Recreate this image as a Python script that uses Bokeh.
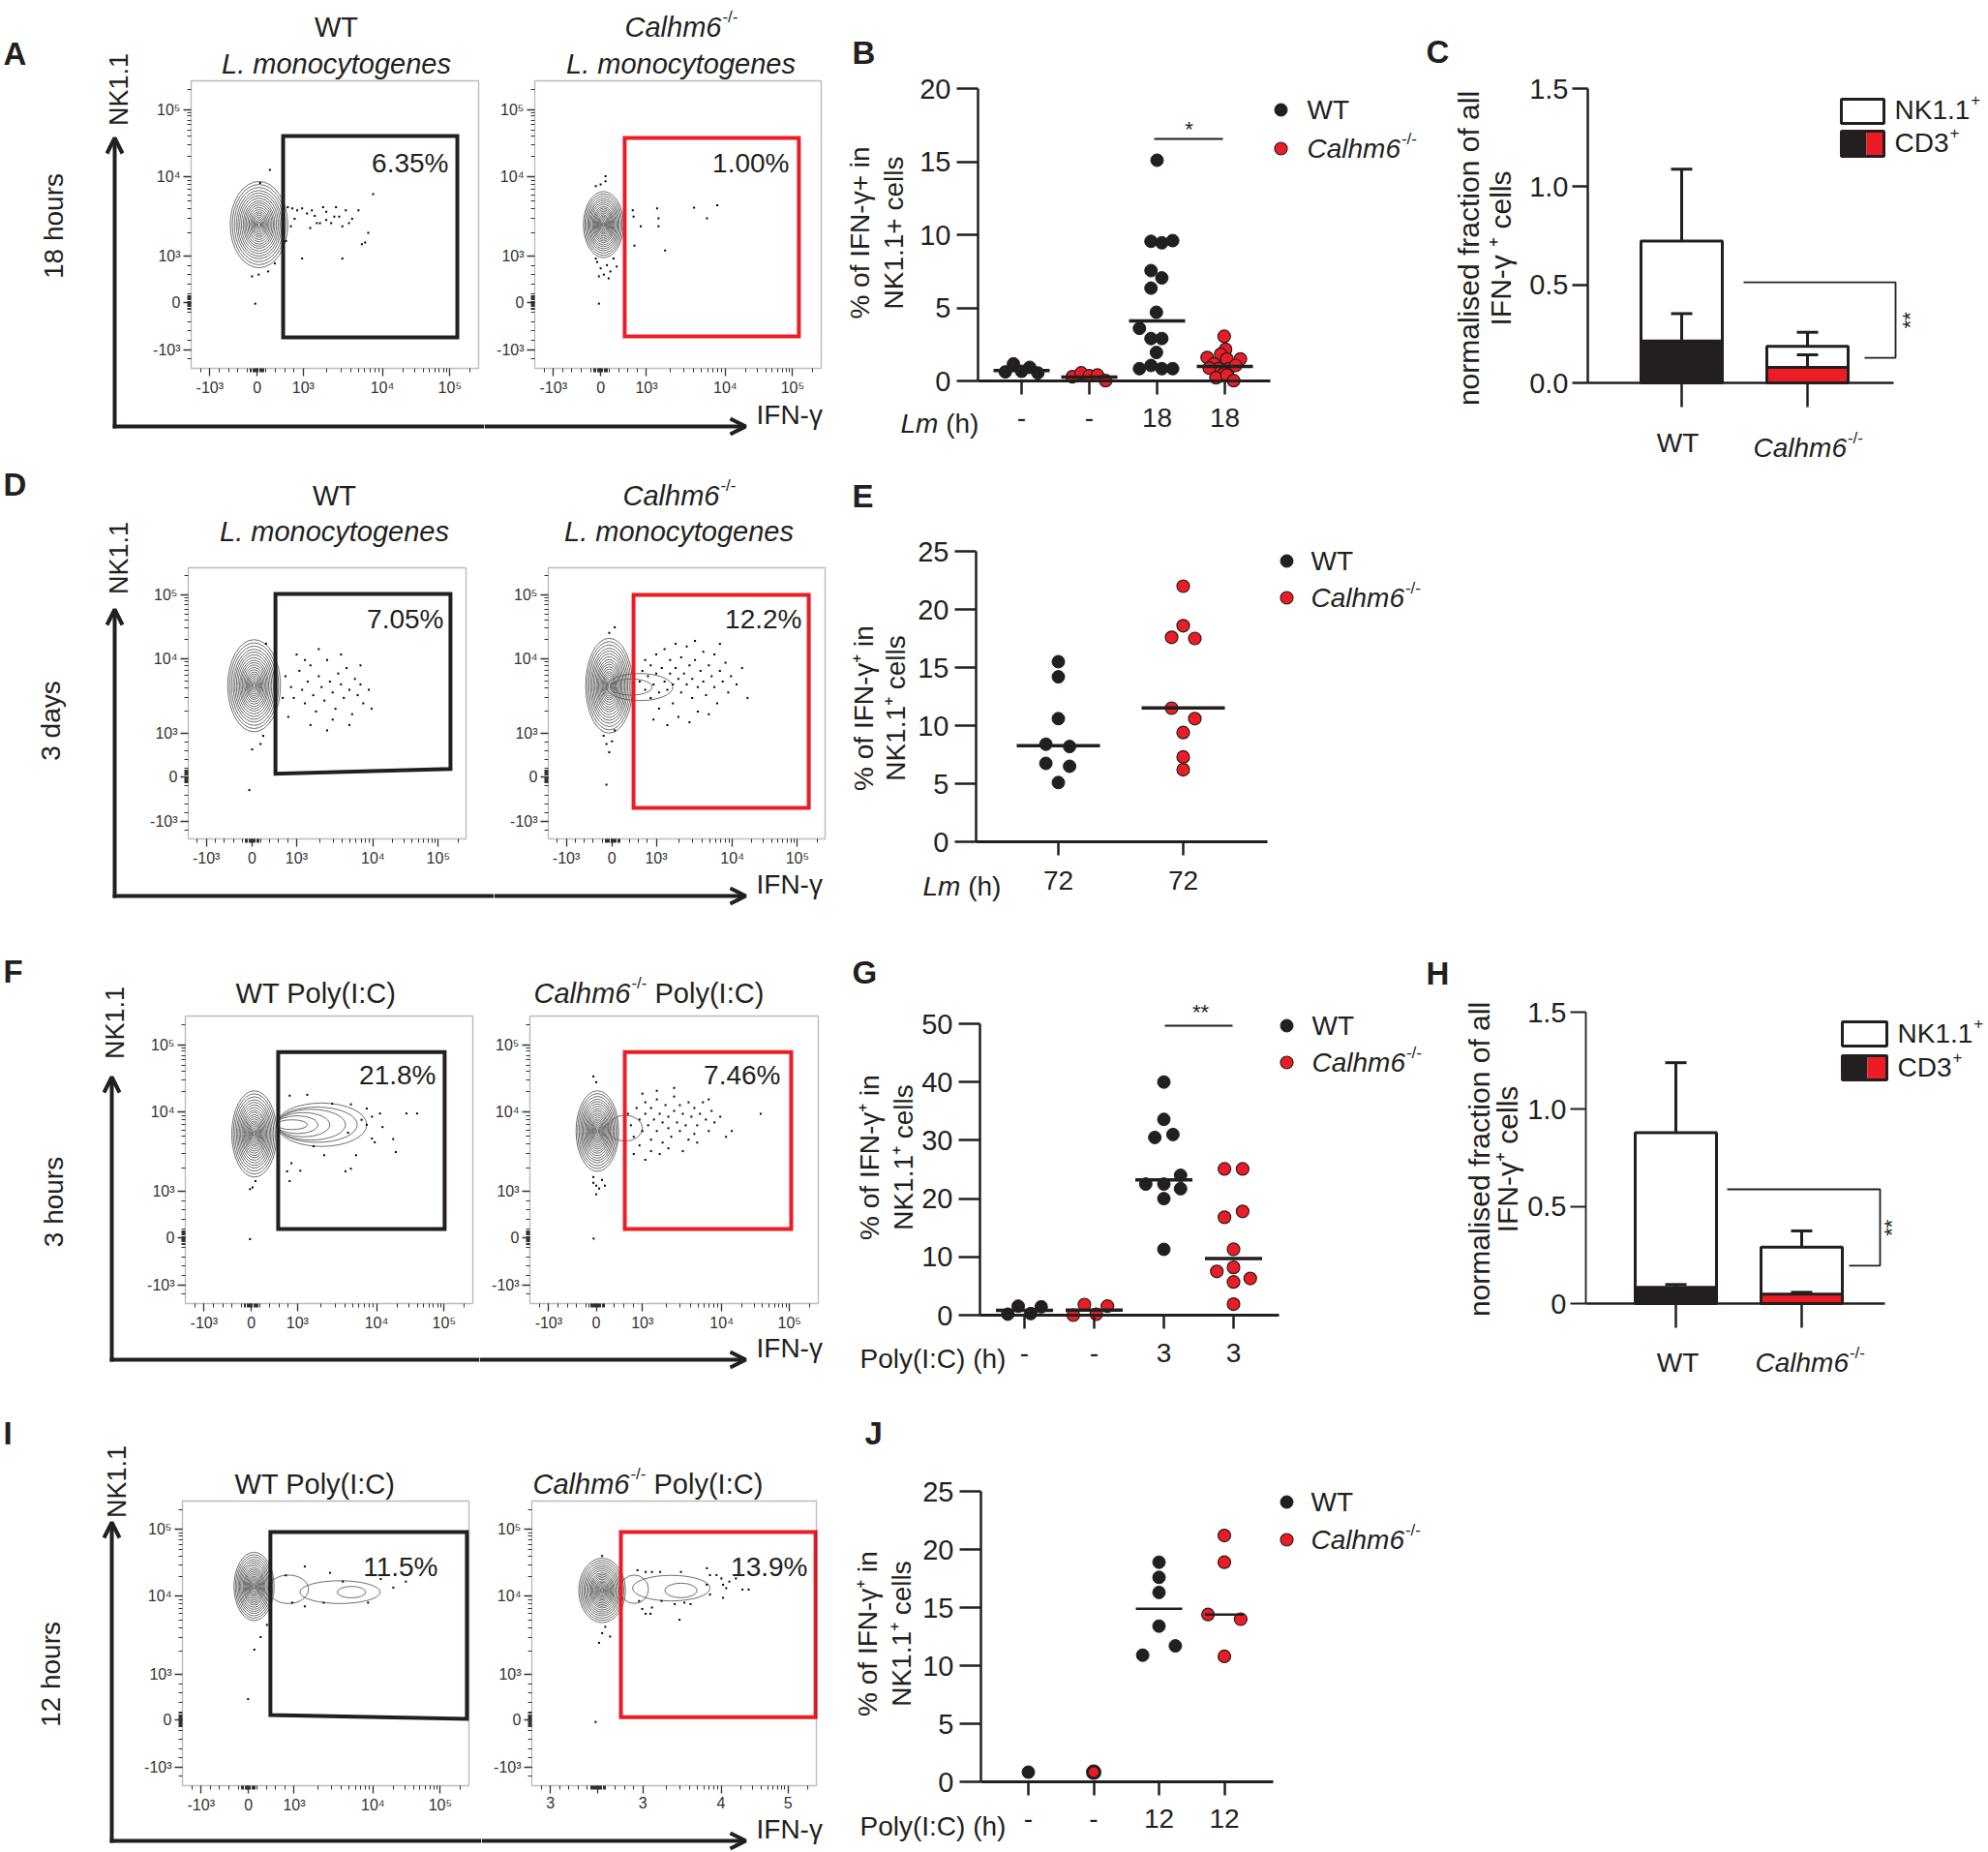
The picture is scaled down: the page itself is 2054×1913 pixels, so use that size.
import math
from bokeh.plotting import figure
from bokeh.layouts import row, column
from bokeh.models import Label, Arrow, OpenHead, FixedTicker, Range1d, BoxAnnotation
from bokeh.embed import file_html
from bokeh.resources import INLINE

FONT = "Liberation Sans"
INK = "#231f20"
RED = "#ed1c24"
CONTOUR = "#5e5e5e"

# ============================ DATA ============================
# flow cytometry biexponential axes (positions as fraction of the plot box)
FLOW_TICK_POS = [0.065, 0.23, 0.39, 0.665, 0.90]
FLOW_TICK_LAB = ["-10³", "0", "10³", "10⁴", "10⁵"]
FLOW_TICK_LAB_I_KO = ["3", "", "3", "4", "5"]
CONTOUR_LEVELS = [1.0, 0.93, 0.86, 0.79, 0.73, 0.67, 0.61, 0.55, 0.50, 0.45, 0.40, 0.35,
                  0.30, 0.26, 0.22, 0.18, 0.14, 0.10, 0.07, 0.04]

# gates: x0, x1, top, bottom-left, bottom-right
A_WT_GATE = [0.32, 0.926, 0.808, 0.108, 0.108]
A_KO_GATE = [0.314, 0.922, 0.801, 0.111, 0.111]
D_WT_GATE = [0.314, 0.944, 0.904, 0.240, 0.258]
D_KO_GATE = [0.308, 0.941, 0.900, 0.114, 0.114]
F_WT_GATE = [0.323, 0.902, 0.875, 0.259, 0.259]
F_KO_GATE = [0.329, 0.906, 0.875, 0.259, 0.259]
I_WT_GATE = [0.307, 0.993, 0.891, 0.248, 0.235]
I_KO_GATE = [0.313, 0.997, 0.891, 0.241, 0.241]

A_WT_PCT, A_KO_PCT = "6.35%", "1.00%"
D_WT_PCT, D_KO_PCT = "7.05%", "12.2%"
F_WT_PCT, F_KO_PCT = "21.8%", "7.46%"
I_WT_PCT, I_KO_PCT = "11.5%", "13.9%"

# main population contour: centre x, centre y, width, height
A_WT_POP = [0.236, 0.50, 0.20, 0.30]
A_KO_POP = [0.24, 0.50, 0.14, 0.23]
D_WT_POP = [0.237, 0.565, 0.19, 0.34]
D_KO_POP = [0.22, 0.565, 0.17, 0.35]
F_WT_POP = [0.24, 0.59, 0.157, 0.30]
F_KO_POP = [0.234, 0.60, 0.148, 0.28]
I_WT_POP = [0.25, 0.70, 0.14, 0.24]
I_KO_POP = [0.247, 0.686, 0.164, 0.226]

# secondary (IFN-g+) contours
D_KO_TAIL = [(0.33, 0.56, 0.24, 0.10), (0.30, 0.56, 0.15, 0.06)]
F_WT_TAIL = [(0.474, 0.622, 0.314, 0.151), (0.458, 0.622, 0.280, 0.123), (0.437, 0.622, 0.240, 0.107),
             (0.41, 0.622, 0.185, 0.084), (0.389, 0.622, 0.144, 0.062), (0.371, 0.622, 0.107, 0.034)]
F_KO_TAIL = [(0.33, 0.61, 0.12, 0.09)]
I_WT_TAIL = [(0.37, 0.69, 0.14, 0.10), (0.55, 0.68, 0.28, 0.08), (0.59, 0.68, 0.10, 0.04)]
I_KO_TAIL = [(0.36, 0.69, 0.10, 0.10), (0.49, 0.694, 0.272, 0.09), (0.524, 0.686, 0.113, 0.051)]

# single events outside the contours
A_WT_DOTS = [(0.336, 0.561), (0.352, 0.556), (0.369, 0.550), (0.386, 0.556), (0.403, 0.539), (0.420, 0.550),
             (0.437, 0.505), (0.459, 0.561), (0.470, 0.516), (0.487, 0.505), (0.504, 0.561), (0.515, 0.528),
             (0.526, 0.494), (0.538, 0.550), (0.549, 0.505), (0.582, 0.550), (0.616, 0.471), (0.605, 0.438),
             (0.633, 0.606), (0.414, 0.488), (0.347, 0.494), (0.330, 0.443), (0.448, 0.505), (0.498, 0.528),
             (0.594, 0.432), (0.274, 0.690), (0.240, 0.645), (0.223, 0.225), (0.212, 0.320), (0.235, 0.326),
             (0.268, 0.337), (0.291, 0.365), (0.386, 0.382), (0.526, 0.382), (0.360, 0.520), (0.430, 0.530),
             (0.470, 0.545), (0.560, 0.520)]
A_KO_DOTS = [(0.342, 0.550), (0.345, 0.528), (0.370, 0.494), (0.348, 0.427), (0.427, 0.556), (0.432, 0.522),
             (0.432, 0.494), (0.455, 0.410), (0.556, 0.559), (0.601, 0.522), (0.637, 0.567), (0.218, 0.370),
             (0.230, 0.348), (0.241, 0.326), (0.252, 0.359), (0.264, 0.337), (0.224, 0.320), (0.275, 0.382),
             (0.213, 0.634), (0.230, 0.640), (0.247, 0.651), (0.224, 0.225), (0.286, 0.354), (0.258, 0.313),
             (0.213, 0.382), (0.247, 0.668)]
D_WT_DOTS = [(0.35, 0.60), (0.37, 0.56), (0.38, 0.52), (0.40, 0.62), (0.41, 0.55), (0.42, 0.50), (0.43, 0.58),
             (0.44, 0.64), (0.45, 0.53), (0.46, 0.47), (0.47, 0.60), (0.48, 0.56), (0.49, 0.51), (0.50, 0.66),
             (0.51, 0.58), (0.52, 0.54), (0.53, 0.48), (0.54, 0.61), (0.55, 0.57), (0.56, 0.52), (0.57, 0.63),
             (0.58, 0.55), (0.59, 0.46), (0.60, 0.59), (0.61, 0.53), (0.62, 0.57), (0.63, 0.50), (0.65, 0.55),
             (0.36, 0.45), (0.39, 0.68), (0.44, 0.42), (0.47, 0.70), (0.52, 0.44), (0.55, 0.68), (0.58, 0.42),
             (0.62, 0.64), (0.66, 0.48), (0.34, 0.52), (0.42, 0.66), (0.50, 0.40), (0.27, 0.38), (0.26, 0.35),
             (0.23, 0.33), (0.22, 0.18), (0.28, 0.72)]
D_KO_DOTS = [(0.33, 0.58), (0.34, 0.62), (0.35, 0.55), (0.35, 0.66), (0.36, 0.60), (0.37, 0.52), (0.37, 0.64),
             (0.38, 0.57), (0.39, 0.68), (0.39, 0.61), (0.40, 0.54), (0.40, 0.48), (0.41, 0.63), (0.42, 0.58),
             (0.42, 0.70), (0.43, 0.55), (0.44, 0.61), (0.44, 0.66), (0.45, 0.50), (0.45, 0.57), (0.46, 0.63),
             (0.47, 0.59), (0.47, 0.45), (0.48, 0.67), (0.48, 0.54), (0.49, 0.61), (0.50, 0.57), (0.50, 0.71),
             (0.51, 0.64), (0.52, 0.52), (0.52, 0.59), (0.53, 0.66), (0.54, 0.56), (0.54, 0.47), (0.55, 0.62),
             (0.56, 0.69), (0.56, 0.58), (0.57, 0.53), (0.58, 0.64), (0.59, 0.60), (0.60, 0.56), (0.60, 0.68),
             (0.61, 0.50), (0.62, 0.62), (0.63, 0.58), (0.64, 0.65), (0.65, 0.54), (0.66, 0.60), (0.68, 0.57),
             (0.70, 0.63), (0.72, 0.52), (0.38, 0.44), (0.43, 0.42), (0.51, 0.43), (0.58, 0.46), (0.46, 0.72),
             (0.53, 0.73), (0.62, 0.72), (0.20, 0.38), (0.21, 0.35), (0.23, 0.36), (0.22, 0.32), (0.24, 0.40),
             (0.21, 0.20), (0.22, 0.76), (0.24, 0.78)]
F_WT_DOTS = [(0.363, 0.723), (0.424, 0.726), (0.511, 0.695), (0.576, 0.693), (0.631, 0.678), (0.649, 0.650),
             (0.677, 0.661), (0.631, 0.622), (0.686, 0.614), (0.769, 0.661), (0.806, 0.661), (0.659, 0.561),
             (0.732, 0.527), (0.594, 0.516), (0.483, 0.516), (0.446, 0.547), (0.576, 0.469), (0.363, 0.426),
             (0.369, 0.488), (0.400, 0.462), (0.234, 0.404), (0.225, 0.224), (0.557, 0.460), (0.649, 0.574),
             (0.723, 0.572), (0.354, 0.460), (0.244, 0.426), (0.225, 0.398), (0.613, 0.639), (0.566, 0.594)]
F_KO_DOTS = [(0.34, 0.66), (0.35, 0.62), (0.36, 0.58), (0.37, 0.68), (0.38, 0.64), (0.38, 0.55), (0.39, 0.60),
             (0.40, 0.70), (0.40, 0.66), (0.41, 0.62), (0.42, 0.57), (0.42, 0.68), (0.43, 0.64), (0.44, 0.60),
             (0.44, 0.71), (0.45, 0.66), (0.46, 0.63), (0.46, 0.56), (0.47, 0.69), (0.48, 0.65), (0.48, 0.61),
             (0.49, 0.58), (0.50, 0.67), (0.50, 0.72), (0.51, 0.63), (0.52, 0.60), (0.52, 0.69), (0.53, 0.66),
             (0.54, 0.62), (0.55, 0.70), (0.55, 0.57), (0.56, 0.65), (0.57, 0.68), (0.58, 0.62), (0.59, 0.66),
             (0.60, 0.70), (0.61, 0.64), (0.62, 0.60), (0.63, 0.67), (0.64, 0.63), (0.66, 0.65), (0.68, 0.58),
             (0.70, 0.60), (0.36, 0.52), (0.40, 0.50), (0.45, 0.52), (0.48, 0.54), (0.53, 0.53), (0.58, 0.56),
             (0.44, 0.74), (0.50, 0.75), (0.39, 0.73), (0.62, 0.71), (0.57, 0.59), (0.42, 0.53), (0.80, 0.66),
             (0.22, 0.44), (0.23, 0.41), (0.24, 0.40), (0.25, 0.43), (0.23, 0.38), (0.22, 0.42), (0.26, 0.41),
             (0.221, 0.226), (0.22, 0.79), (0.23, 0.77)]
I_WT_DOTS = [(0.361, 0.739), (0.427, 0.770), (0.515, 0.748), (0.692, 0.726), (0.736, 0.696), (0.648, 0.643),
             (0.383, 0.643), (0.273, 0.522), (0.295, 0.565), (0.251, 0.478), (0.229, 0.304), (0.427, 0.630),
             (0.780, 0.717), (0.560, 0.717), (0.493, 0.643)]
I_KO_DOTS = [(0.371, 0.757), (0.400, 0.751), (0.422, 0.751), (0.451, 0.751), (0.524, 0.751), (0.615, 0.764),
             (0.626, 0.740), (0.649, 0.740), (0.666, 0.728), (0.672, 0.706), (0.683, 0.694), (0.694, 0.717),
             (0.717, 0.728), (0.740, 0.689), (0.762, 0.689), (0.615, 0.706), (0.626, 0.672), (0.672, 0.660),
             (0.558, 0.638), (0.536, 0.643), (0.502, 0.638), (0.456, 0.649), (0.422, 0.626), (0.388, 0.621),
             (0.400, 0.604), (0.417, 0.604), (0.519, 0.583), (0.377, 0.649), (0.258, 0.558), (0.247, 0.536),
             (0.236, 0.502), (0.275, 0.524), (0.224, 0.224), (0.247, 0.807)]

# ---- Panel B: % IFN-g+ in NK1.1+ cells, Lm 18 h ----
B_CATS = ["-", "-", "18", "18"]
B_WT_CTRL = [0.62, 1.17, 0.66, 0.93, 0.55]
B_WT_CTRL_DX = [-0.24, -0.12, 0.0, 0.12, 0.24]
B_KO_CTRL = [0.29, 0.55, 0.35, 0.40, 0.02]
B_KO_CTRL_DX = [-0.25, -0.12, 0.0, 0.12, 0.24]
B_WT_LM = [15.1, 9.55, 9.45, 9.6, 7.55, 7.05, 6.35, 4.7, 3.6, 2.9, 2.9, 1.95, 0.84, 1.06, 0.84, 0.84]
B_WT_LM_DX = [0, -0.09, 0.07, 0.23, -0.09, 0.07, -0.09, -0.01, -0.26, -0.09, 0.07, -0.01, -0.26, -0.09, 0.07, 0.23]
B_KO_LM = [3.05, 2.16, 1.83, 1.6, 1.5, 1.5, 1.17, 0.84, 0.84, 1.06, 0.88, 0.51, 0.22, 0.4, 0.02]
B_KO_LM_DX = [-0.01, 0.01, -0.06, -0.26, 0.03, 0.23, -0.16, -0.09, 0.06, 0.16, -0.23, -0.01, -0.13, 0.03, 0.13]
B_MEDIANS = [0.71, 0.27, 4.1, 1.0]

# ---- Panel E: Lm 72 h ----
E_CATS = ["72", "72"]
E_WT = [15.5, 14.2, 10.6, 8.4, 8.2, 6.75, 6.5, 5.1]
E_WT_DX = [0, 0, 0, -0.10, 0.09, -0.10, 0.09, 0]
E_KO = [22.0, 18.6, 17.6, 17.5, 11.5, 10.6, 9.4, 7.3, 6.2]
E_KO_DX = [0, 0, -0.093, 0.093, -0.093, 0.093, 0, 0, 0]
E_MEDIANS = [8.28, 11.53]

# ---- Panel G: Poly(I:C) 3 h ----
G_CATS = ["-", "-", "3", "3"]
G_WT_CTRL = [0.17, 1.55, 0.28, 1.44]
G_WT_CTRL_DX = [-0.24, -0.09, 0.09, 0.24]
G_KO_CTRL = [0.0, 1.83, 0.17, 1.55]
G_KO_CTRL_DX = [-0.30, -0.14, 0.03, 0.19]
G_WT_PIC = [40.0, 33.6, 30.5, 31.0, 24.0, 22.5, 22.5, 21.7, 20.0, 11.3]
G_WT_PIC_DX = [0, 0, -0.13, 0.13, 0.24, -0.26, 0, 0.24, 0, 0]
G_KO_PIC = [25.1, 25.1, 17.8, 16.8, 11.3, 8.2, 7.5, 6.3, 5.7, 1.9]
G_KO_PIC_DX = [-0.13, 0.13, 0.13, -0.13, 0, 0, -0.24, 0.24, 0, 0]
G_MEDIANS = [0.83, 0.89, 23.2, 9.7]

# ---- Panel J: Poly(I:C) 12 h ----
J_CATS = ["-", "-", "12", "12"]
J_WT_CTRL = [0.83]
J_KO_CTRL = [0.83]
J_WT_PIC = [18.9, 17.6, 16.3, 13.4, 10.9, 11.7]
J_WT_PIC_DX = [0, 0, 0, 0, -0.25, 0.25]
J_KO_PIC = [21.2, 18.9, 14.4, 14.0, 10.8]
J_KO_PIC_DX = [0, 0, -0.25, 0.25, 0]
J_MEDIANS = [14.9, 14.4]

# ---- Panels C / H: normalised fraction of all IFN-g+ cells ----
C_TOTAL = [0.723, 0.186]
C_TOTAL_ERR = [1.089, 0.258]
C_CD3 = [0.214, 0.079]
C_CD3_ERR = [0.353, 0.143]
H_TOTAL = [0.88, 0.29]
H_TOTAL_ERR = [1.24, 0.374]
H_CD3 = [0.083, 0.048]
H_CD3_ERR = [0.098, 0.058]

# ============================ HELPERS ============================
CW = {' ': 278, '-': 333, '/': 278, '(': 333, ')': 333, ':': 278, '.': 278, '%': 889, '+': 584,
      'C': 722, 'a': 556, 'l': 222, 'h': 556, 'm': 833, 'P': 667, 'o': 556, 'y': 500, 'I': 278,
      'L': 556, 'n': 556, 'c': 500, 't': 278, 'g': 556, 'e': 556, 's': 500, 'W': 944, 'T': 611,
      'N': 722, 'K': 667, 'D': 722, 'F': 611, 'u': 556, 'r': 333, 'i': 222, 'd': 556, 'f': 278}


def tw(s, size):
    return sum(CW.get(ch, 556) for ch in s) * size / 1000.0


class Geo:
    """cell in reference-pixel coordinates (left, top, right, bottom); frame == cell."""

    def __init__(self, cell, xr, yr):
        self.cell, self.xr, self.yr = cell, xr, yr

    def X(self, px):
        fl, ft, fr, fb = self.cell
        return self.xr[0] + (px - fl) / (fr - fl) * (self.xr[1] - self.xr[0])

    def Y(self, py):
        fl, ft, fr, fb = self.cell
        return self.yr[0] + (fb - py) / (fb - ft) * (self.yr[1] - self.yr[0])


def base_fig(g):
    cl, ct, cr, cb = g.cell
    p = figure(width=cr - cl, height=cb - ct, x_range=Range1d(*g.xr), y_range=Range1d(*g.yr),
               output_backend="svg", toolbar_location=None,
               min_border_left=0, min_border_right=0, min_border_top=0, min_border_bottom=0)
    p.xgrid.visible = False
    p.ygrid.visible = False
    p.outline_line_color = None
    p.background_fill_color = "white"
    p.border_fill_color = "white"
    return p


def lab(p, g, px, py, text, size, align="left", style="normal", angle=0.0, color=INK, baseline="middle"):
    p.add_layout(Label(x=g.X(px), y=g.Y(py), text=text, text_font=FONT,
                       text_font_size=f"{size}px", text_font_style=style,
                       text_align=align, text_baseline=baseline, angle=angle, text_color=color))


def sup_lab(p, g, px, py, main, sup, size, style="italic", tail=None, center=False):
    ssz = round(size * 0.6)
    total = tw(main, size) + tw(sup, ssz) + (tw(" " + tail, size) if tail else 0)
    x0 = px - total / 2 if center else px
    lab(p, g, x0, py, main, size, "left", style)
    xs = x0 + tw(main, size) + 1
    lab(p, g, xs, py - 0.36 * size, sup, ssz, "left", "normal")
    if tail:
        lab(p, g, xs + tw(sup, ssz) + tw(" ", size), py, tail, size, "left", "normal")


FLOW_MINOR = []
for a, b in ((0.39, 0.665), (0.665, 0.90)):
    for k in range(2, 10):
        FLOW_MINOR.append(a + (b - a) * math.log10(k))
FLOW_MINOR += [0.90 + 0.235 * math.log10(k) for k in (2, 3)]
FLOW_MINOR += [0.065 + 0.0325 * i for i in range(-2, 10)]
FLOW_MINOR += [0.206 + 0.004 * i for i in range(13)]
FLOW_MINOR = [t for t in FLOW_MINOR if 0.0 < t < 1.0]


def style_flow_axis(ax, labels):
    ax.ticker = FixedTicker(ticks=FLOW_TICK_POS, minor_ticks=FLOW_MINOR)
    ax.major_label_overrides = {t: l for t, l in zip(FLOW_TICK_POS, labels)}
    ax.fixed_location = 0
    ax.bounds = (0, 1)
    ax.axis_line_color = None
    ax.major_tick_in = 0
    ax.major_tick_out = 8
    ax.minor_tick_in = 0
    ax.minor_tick_out = 4
    ax.major_tick_line_color = "#333333"
    ax.minor_tick_line_color = "#333333"
    ax.major_tick_line_width = 1.3
    ax.minor_tick_line_width = 1
    ax.major_label_text_font = FONT
    ax.major_label_text_font_size = "16px"
    ax.major_label_text_color = "#333333"
    ax.major_label_standoff = 3


def flow_fig(cell, box, pop, tails, dots, gate, gate_color, pct, pct_px, xlabels=FLOW_TICK_LAB):
    bl, bt, br, bb = box
    fx = lambda px: (px - bl) / (br - bl)
    fy = lambda py: (bb - py) / (bb - bt)
    g = Geo(cell, (fx(cell[0]), fx(cell[2])), (fy(cell[3]), fy(cell[1])))
    p = base_fig(g)
    style_flow_axis(p.xaxis[0], xlabels)
    style_flow_axis(p.yaxis[0], FLOW_TICK_LAB)
    p.add_layout(BoxAnnotation(left=0, right=1, bottom=0, top=1, fill_color=None,
                               line_color=INK, line_width=1.4))
    cx, cy, w, h = pop
    n = len(CONTOUR_LEVELS)
    p.ellipse(x=[cx] * n, y=[cy] * n, width=[w * s for s in CONTOUR_LEVELS],
              height=[h * s for s in CONTOUR_LEVELS], fill_color=None, line_color=CONTOUR, line_width=0.9)
    if tails:
        p.ellipse(x=[t[0] for t in tails], y=[t[1] for t in tails], width=[t[2] for t in tails],
                  height=[t[3] for t in tails], fill_color=None, line_color=CONTOUR, line_width=0.9)
    p.scatter(x=[d[0] for d in dots], y=[d[1] for d in dots], marker="square", size=2,
              fill_color="black", line_color=None)
    x0, x1, top, bl_, br_ = gate
    p.patch(x=[x0, x1, x1, x0], y=[top, top, br_, bl_], fill_color=None, line_color=gate_color,
            line_width=4, line_join="miter")
    lab(p, g, pct_px[0], pct_px[1], pct, 28, "right")
    return p, g


def fl_decor(p, g, letter, letter_y, time_text, time_xy, nk_xy, vx, vtop, hy, split):
    lab(p, g, 3, letter_y, letter, 33, "left", "bold")
    lab(p, g, time_xy[0], time_xy[1], time_text, 28, "center", angle=math.pi / 2)
    lab(p, g, nk_xy[0], nk_xy[1], "NK1.1", 27, "center", angle=math.pi / 2)
    p.add_layout(Arrow(end=OpenHead(size=16, line_width=4, line_color=INK),
                       x_start=g.X(vx), y_start=g.Y(hy + 2), x_end=g.X(vx), y_end=g.Y(vtop),
                       line_width=4, line_color=INK))
    p.add_layout(Arrow(end=None, x_start=g.X(vx - 2), y_start=g.Y(hy), x_end=g.X(split), y_end=g.Y(hy),
                       line_width=4, line_color=INK))


def fr_decor(p, g, split, hy):
    p.add_layout(Arrow(end=OpenHead(size=16, line_width=4, line_color=INK),
                       x_start=g.X(split), y_start=g.Y(hy), x_end=g.X(770), y_end=g.Y(hy),
                       line_width=4, line_color=INK))
    lab(p, g, 781, hy - 12, "IFN-γ", 28, "left")


def scatter_fig(cell, axis_px, cat1, spacing, y0px, ytpx, ytop, yticks, xend_px, cat_labels, standoff):
    X = lambda px: 1 + (px - cat1) / spacing
    k = ytop / (y0px - ytpx)
    Y = lambda py: (y0px - py) * k
    g = Geo(cell, (X(cell[0]), X(cell[2])), (Y(cell[3]), Y(cell[1])))
    p = base_fig(g)
    ya = p.yaxis[0]
    ya.ticker = FixedTicker(ticks=yticks, minor_ticks=[])
    ya.fixed_location = X(axis_px)
    ya.bounds = (0, ytop)
    ya.axis_line_width = 2.5
    ya.axis_line_color = INK
    ya.major_tick_out = 22
    ya.major_tick_in = 0
    ya.major_tick_line_width = 2.5
    ya.major_tick_line_color = INK
    ya.minor_tick_line_color = None
    ya.major_label_text_font = FONT
    ya.major_label_text_font_size = "29px"
    ya.major_label_text_color = INK
    ya.major_label_standoff = 6
    xa = p.xaxis[0]
    ticks = list(range(1, len(cat_labels) + 1))
    xa.ticker = FixedTicker(ticks=ticks, minor_ticks=[])
    xa.major_label_overrides = {t: l for t, l in zip(ticks, cat_labels)}
    xa.fixed_location = 0
    xa.bounds = (X(axis_px), X(xend_px))
    xa.axis_line_width = 3
    xa.axis_line_color = INK
    xa.major_tick_out = 14
    xa.major_tick_in = 0
    xa.major_tick_line_width = 2.5
    xa.major_tick_line_color = INK
    xa.minor_tick_line_color = None
    xa.major_label_text_font = FONT
    xa.major_label_text_font_size = "28px"
    xa.major_label_text_color = INK
    xa.major_label_standoff = standoff
    return p, g


def draw_groups(p, groups):
    for cat, ys, dxs, fill, lw in groups:
        p.scatter(x=[cat + d for d in dxs], y=ys, size=13, fill_color=fill, line_color=INK, line_width=lw)


def draw_medians(p, cats, meds, half, lw):
    p.segment(x0=[c - h for c, h in zip(cats, half)], x1=[c + h for c, h in zip(cats, half)],
              y0=meds, y1=meds, line_width=lw, line_color=INK)


def legend_dots(p, g, xd, y1, y2, xt):
    p.scatter(x=[g.X(xd)], y=[g.Y(y1)], size=13, fill_color=INK, line_color=INK)
    p.scatter(x=[g.X(xd)], y=[g.Y(y2)], size=13, fill_color=RED, line_color=INK, line_width=1.2)
    lab(p, g, xt, y1, "WT", 28)
    sup_lab(p, g, xt, y2, "Calhm6", "-/-", 28)


def ylabel2(p, g, x1, x2, cy, l1, l2, size=28):
    lab(p, g, x1, cy, l1, size, "center", angle=math.pi / 2)
    lab(p, g, x2, cy, l2, size, "center", angle=math.pi / 2)


def bar_fig(cell, axis_px, cat1, spacing, y0px, ytpx, xend_px, ytick_labels, axis_w):
    X = lambda px: 1 + (px - cat1) / spacing
    k = 1.5 / (y0px - ytpx)
    Y = lambda py: (y0px - py) * k
    g = Geo(cell, (X(cell[0]), X(cell[2])), (Y(cell[3]), Y(cell[1])))
    p = base_fig(g)
    ya = p.yaxis[0]
    yt = [0, 0.5, 1.0, 1.5]
    ya.ticker = FixedTicker(ticks=yt, minor_ticks=[])
    ya.major_label_overrides = {t: l for t, l in zip(yt, ytick_labels)}
    ya.fixed_location = X(axis_px)
    ya.bounds = (0, 1.5)
    ya.axis_line_width = axis_w
    ya.axis_line_color = INK
    ya.major_tick_out = 16
    ya.major_tick_in = 0
    ya.major_tick_line_width = axis_w
    ya.major_tick_line_color = INK
    ya.minor_tick_line_color = None
    ya.major_label_text_font = FONT
    ya.major_label_text_font_size = "29px"
    ya.major_label_text_color = INK
    ya.major_label_standoff = 4
    xa = p.xaxis[0]
    xa.ticker = FixedTicker(ticks=[1, 2], minor_ticks=[])
    xa.major_label_overrides = {1: "", 2: ""}
    xa.fixed_location = 0
    xa.bounds = (X(axis_px), X(xend_px))
    xa.axis_line_width = 2.5
    xa.axis_line_color = INK
    xa.major_tick_out = 25
    xa.major_tick_in = 0
    xa.major_tick_line_width = 2.5
    xa.major_tick_line_color = INK
    xa.minor_tick_line_color = None
    xa.major_label_text_font_size = "10px"
    return p, g


def draw_bars(p, spacing, total, total_err, cd3, cd3_err):
    cats = [1, 2]
    bw = 84 / spacing
    cap = 11 / spacing
    p.vbar(x=cats, width=bw, bottom=0, top=total, fill_color="white", line_color=INK, line_width=3)
    p.vbar(x=cats, width=bw, bottom=0, top=cd3, fill_color=[INK, RED], line_color=INK, line_width=3)
    for lo, hi in ((total, total_err), (cd3, cd3_err)):
        p.segment(x0=cats, x1=cats, y0=lo, y1=hi, line_width=3, line_color=INK)
        p.segment(x0=[c - cap for c in cats], x1=[c + cap for c in cats], y0=hi, y1=hi,
                  line_width=3, line_color=INK)


def bar_legend(p, g, x0, xs, x1, y_nk, y_cd3, xt, ty1, ty2):
    p.quad(left=[g.X(x0)], right=[g.X(x1)], top=[g.Y(y_nk[0])], bottom=[g.Y(y_nk[1])],
           fill_color="white", line_color=INK, line_width=3)
    p.quad(left=[g.X(x0), g.X(xs)], right=[g.X(xs), g.X(x1)], top=[g.Y(y_cd3[0])] * 2,
           bottom=[g.Y(y_cd3[1])] * 2, fill_color=[INK, RED], line_color=None)
    p.quad(left=[g.X(x0)], right=[g.X(x1)], top=[g.Y(y_cd3[0])], bottom=[g.Y(y_cd3[1])],
           fill_color=None, line_color=INK, line_width=3)
    sup_lab(p, g, xt, ty1, "NK1.1", "+", 28, style="normal")
    sup_lab(p, g, xt, ty2, "CD3", "+", 28, style="normal")


def rot_stars(p, g, px, yval, text):
    p.add_layout(Label(x=g.X(px), y=yval, text=text, text_font=FONT, text_font_size="22px",
                       text_align="center", text_baseline="middle", angle=math.pi / 2, text_color=INK))


# ============================ ROW A ============================
RA0, RA1 = 0, 480
SPLIT_A = 500
fla, gfla = flow_fig((0, RA0, SPLIT_A, RA1), (197, 83, 494, 380), A_WT_POP, None, A_WT_DOTS,
                     A_WT_GATE, INK, A_WT_PCT, (463, 168))
fl_decor(fla, gfla, "A", 55, "18 hours", (55, 233), (122, 92), 118, 142, 440, SPLIT_A)
lab(fla, gfla, 347, 27, "WT", 29, "center")
lab(fla, gfla, 347, 65, "L. monocytogenes", 29, "center", "italic")

fra, gfra = flow_fig((SPLIT_A, RA0, 870, RA1), (552, 83, 848, 380), A_KO_POP, None, A_KO_DOTS,
                     A_KO_GATE, RED, A_KO_PCT, (815, 168))
fr_decor(fra, gfra, SPLIT_A, 440)
sup_lab(fra, gfra, 703, 27, "Calhm6", "-/-", 29, center=True)
lab(fra, gfra, 703, 65, "L. monocytogenes", 29, "center", "italic")

# Panel B
pb, gb = scatter_fig((870, RA0, 1470, RA1), 1010, 1055, 70, 393, 91, 20,
                     [0, 5, 10, 15, 20], 1312, B_CATS, 14)
draw_groups(pb, [(1, B_WT_CTRL, B_WT_CTRL_DX, INK, 1), (2, B_KO_CTRL, B_KO_CTRL_DX, RED, 1.2),
                 (3, B_WT_LM, B_WT_LM_DX, INK, 1), (4, B_KO_LM, B_KO_LM_DX, RED, 1.2)])
draw_medians(pb, [1, 2, 3, 4], B_MEDIANS, [29 / 70] * 4, 3.5)
pb.segment(x0=[gb.X(1192)], x1=[gb.X(1263)], y0=[gb.Y(143)], y1=[gb.Y(143)], line_width=1.8, line_color=INK)
lab(pb, gb, 1228, 133, "*", 22, "center")
legend_dots(pb, gb, 1323, 113, 153, 1350)
lab(pb, gb, 930, 437, "Lm", 28, "left", "italic")
lab(pb, gb, 930 + tw("Lm ", 28), 437, "(h)", 28, "left")
ylabel2(pb, gb, 888, 923, 240, "% of IFN-γ+ in", "NK1.1+ cells")
lab(pb, gb, 880, 54, "B", 33, "left", "bold")

# Panel C
pc, gc = bar_fig((1470, RA0, 2054, RA1), 1640, 1737, 130, 395, 91, 1956,
                 ["0.0", "0.5", "1.0", "1.5"], 2.5)
draw_bars(pc, 130, C_TOTAL, C_TOTAL_ERR, C_CD3, C_CD3_ERR)
pc.line(x=[gc.X(1801), gc.X(1958), gc.X(1958), gc.X(1926)], y=[0.513, 0.513, 0.128, 0.128],
        line_width=1.8, line_color=INK)
rot_stars(pc, gc, 1973, 0.32, "**")
bar_legend(pc, gc, 1902, 1928, 1946, (102, 127), (135, 161), 1957, 113, 147)
lab(pc, gc, 1733, 457, "WT", 28, "center")
sup_lab(pc, gc, 1811, 462, "Calhm6", "-/-", 28)
ylabel2(pc, gc, 1517, 1550, 256, "normalised fraction of all", "IFN-γ ⁺ cells", 30)
lab(pc, gc, 1473, 53, "C", 33, "left", "bold")

# ============================ ROW D ============================
RD0, RD1 = 480, 960
SPLIT_D = 510
fld, gfld = flow_fig((0, RD0, SPLIT_D, RD1), (194, 586, 481, 866), D_WT_POP, None, D_WT_DOTS,
                     D_WT_GATE, INK, D_WT_PCT, (458, 639))
fl_decor(fld, gfld, "D", 500, "3 days", (52, 744), (122, 576), 118, 629, 925, SPLIT_D)
lab(fld, gfld, 345, 511, "WT", 29, "center")
lab(fld, gfld, 345, 548, "L. monocytogenes", 29, "center", "italic")

frd, gfrd = flow_fig((SPLIT_D, RD0, 870, RD1), (566, 586, 852, 866), D_KO_POP, D_KO_TAIL, D_KO_DOTS,
                     D_KO_GATE, RED, D_KO_PCT, (828, 639))
fr_decor(frd, gfrd, SPLIT_D, 925)
sup_lab(frd, gfrd, 701, 511, "Calhm6", "-/-", 29, center=True)
lab(frd, gfrd, 701, 548, "L. monocytogenes", 29, "center", "italic")

# Panel E
pe, ge = scatter_fig((870, RD0, 2054, RD1), 1008, 1093, 129, 869, 569, 25,
                     [0, 5, 10, 15, 20, 25], 1309, E_CATS, 16)
draw_groups(pe, [(1, E_WT, E_WT_DX, INK, 1), (2, E_KO, E_KO_DX, RED, 1.2)])
draw_medians(pe, [1, 2], E_MEDIANS, [43 / 129] * 2, 3.5)
legend_dots(pe, ge, 1329, 579, 617, 1354)
lab(pe, ge, 953, 915, "Lm", 28, "left", "italic")
lab(pe, ge, 953 + tw("Lm ", 28), 915, "(h)", 28, "left")
ylabel2(pe, ge, 892, 925, 731, "% of IFN-γ⁺ in", "NK1.1⁺ cells")
lab(pe, ge, 880, 512, "E", 33, "left", "bold")

# ============================ ROW F ============================
RF0, RF1 = 960, 1450
SPLIT_F = 495
flf, gflf = flow_fig((0, RF0, SPLIT_F, RF1), (191, 1049, 488, 1346), F_WT_POP, F_WT_TAIL, F_WT_DOTS,
                     F_WT_GATE, INK, F_WT_PCT, (450, 1110))
fl_decor(flf, gflf, "F", 1003, "3 hours", (55, 1241), (118, 1056), 115, 1112, 1404, SPLIT_F)
lab(flf, gflf, 326, 1025, "WT Poly(I:C)", 29, "center")

frf, gfrf = flow_fig((SPLIT_F, RF0, 870, RF1), (547, 1049, 845, 1346), F_KO_POP, F_KO_TAIL, F_KO_DOTS,
                     F_KO_GATE, RED, F_KO_PCT, (806, 1110))
fr_decor(frf, gfrf, SPLIT_F, 1404)
sup_lab(frf, gfrf, 551, 1025, "Calhm6", "-/-", 29, tail="Poly(I:C)")

# Panel G
pg, gg = scatter_fig((870, RF0, 1470, RF1), 1012, 1058, 72, 1358, 1057, 50,
                     [0, 10, 20, 30, 40, 50], 1321, G_CATS, 15)
draw_groups(pg, [(1, G_WT_CTRL, G_WT_CTRL_DX, INK, 1), (2, G_KO_CTRL, G_KO_CTRL_DX, RED, 1.2),
                 (3, G_WT_PIC, G_WT_PIC_DX, INK, 1), (4, G_KO_PIC, G_KO_PIC_DX, RED, 1.2)])
draw_medians(pg, [1, 2, 3, 4], G_MEDIANS, [29.5 / 72] * 4, 3.5)
pg.segment(x0=[gg.X(1203)], x1=[gg.X(1273)], y0=[gg.Y(1059)], y1=[gg.Y(1059)], line_width=1.8, line_color=INK)
lab(pg, gg, 1240, 1045, "**", 22, "center")
legend_dots(pg, gg, 1329, 1059, 1097, 1355)
lab(pg, gg, 888, 1403, "Poly(I:C) (h)", 28, "left")
ylabel2(pg, gg, 898, 933, 1195, "% of IFN-γ⁺ in", "NK1.1⁺ cells")
lab(pg, gg, 880, 1004, "G", 33, "left", "bold")

# Panel H
ph, gh = bar_fig((1470, RF0, 2054, RF1), 1638, 1731, 130, 1346, 1045, 1947,
                 ["0", "0.5", "1.0", "1.5"], 1.8)
draw_bars(ph, 130, H_TOTAL, H_TOTAL_ERR, H_CD3, H_CD3_ERR)
ph.line(x=[gh.X(1784), gh.X(1942), gh.X(1942), gh.X(1910)], y=[0.588, 0.588, 0.195, 0.195],
        line_width=1.8, line_color=INK)
rot_stars(ph, gh, 1954, 0.39, "**")
bar_legend(ph, gh, 1903, 1929, 1949, (1055, 1080), (1090, 1115), 1960, 1067, 1102)
lab(ph, gh, 1733, 1407, "WT", 28, "center")
sup_lab(ph, gh, 1813, 1407, "Calhm6", "-/-", 28)
ylabel2(ph, gh, 1528, 1557, 1197, "normalised fraction of all", "IFN-γ⁺ cells", 30)
lab(ph, gh, 1473, 1005, "H", 33, "left", "bold")

# ============================ ROW I ============================
RI0, RI1 = 1450, 1913
SPLIT_I = 497
fli, gfli = flow_fig((0, RI0, SPLIT_I, RI1), (188, 1550, 484, 1844), I_WT_POP, I_WT_TAIL, I_WT_DOTS,
                     I_WT_GATE, INK, I_WT_PCT, (452, 1618))
fl_decor(fli, gfli, "I", 1480, "12 hours", (52, 1729), (120, 1530), 115, 1572, 1901, SPLIT_I)
lab(fli, gfli, 325, 1532, "WT Poly(I:C)", 29, "center")

fri, gfri = flow_fig((SPLIT_I, RI0, 870, RI1), (549, 1550, 843, 1844), I_KO_POP, I_KO_TAIL, I_KO_DOTS,
                     I_KO_GATE, RED, I_KO_PCT, (834, 1618), xlabels=FLOW_TICK_LAB_I_KO)
fr_decor(fri, gfri, SPLIT_I, 1901)
sup_lab(fri, gfri, 550, 1532, "Calhm6", "-/-", 29, tail="Poly(I:C)")

# Panel J
pj, gj = scatter_fig((870, RI0, 2054, RI1), 1013, 1062, 67.5, 1840, 1540, 25,
                     [0, 5, 10, 15, 20, 25], 1315, J_CATS, 14)
draw_groups(pj, [(1, J_WT_CTRL, [0], INK, 1), (2, J_KO_CTRL, [0], RED, 3),
                 (3, J_WT_PIC, J_WT_PIC_DX, INK, 1), (4, J_KO_PIC, J_KO_PIC_DX, RED, 1.2)])
draw_medians(pj, [3, 4], J_MEDIANS, [24 / 67.5, 20 / 67.5], 2.5)
legend_dots(pj, gj, 1329, 1551, 1590, 1354)
lab(pj, gj, 888, 1886, "Poly(I:C) (h)", 28, "left")
ylabel2(pj, gj, 896, 931, 1687, "% of IFN-γ⁺ in", "NK1.1⁺ cells")
lab(pj, gj, 893, 1480, "J", 33, "left", "bold")

layout = column(row(fla, fra, pb, pc), row(fld, frd, pe), row(flf, frf, pg, ph), row(fli, fri, pj))
open("out.html", "w").write(file_html(layout, INLINE, title="Calhm6 NK cells"))
